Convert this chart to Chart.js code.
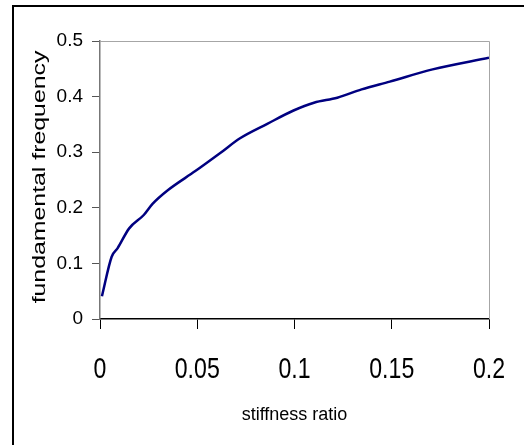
<!DOCTYPE html>
<html>
<head>
<meta charset="utf-8">
<script src="https://cdn.jsdelivr.net/npm/chart.js@4"></script>
<style>
  html, body { margin: 0; padding: 0; background: #fff; overflow: hidden; }
  #wrap { position: relative; width: 524px; height: 445px; overflow: hidden; }
  #frame { position: absolute; left: 12px; top: 5px; width: 600px; height: 600px; border-top: 2px solid #000; border-left: 2px solid #000; pointer-events: none; }
  canvas { position: absolute; left: 0; top: 0; }
</style>
</head>
<body>
<div id="wrap">
  <canvas id="chart" width="524" height="445"></canvas>
  <div id="frame"></div>
</div>
<script>
const STIFFNESS_RATIO = [0.001, 0.006, 0.009, 0.015, 0.0225, 0.027, 0.035, 0.049, 0.062, 0.072, 0.086, 0.0995, 0.11, 0.122, 0.1345, 0.149, 0.171, 0.2]
const FREQUENCY = [0.041, 0.112, 0.127, 0.163, 0.187, 0.207, 0.232, 0.266, 0.299, 0.325, 0.351, 0.375, 0.389, 0.398, 0.413, 0.427, 0.449, 0.470]
const X_TICKS = [0, 0.05, 0.1, 0.15, 0.2]
const Y_TICKS = [0, 0.1, 0.2, 0.3, 0.4, 0.5]
const X_TITLE = 'stiffness ratio'
const Y_TITLE = 'fundamental frequency'

const FONT = "'Liberation Sans', Arial, sans-serif"

// grey top/right edge of the plot box
const plotFrame = {
	id: 'plotFrame',
	beforeDatasetsDraw(chart) {
		const { ctx, chartArea: a } = chart
		ctx.save()
		ctx.strokeStyle = '#a6a6a6'
		ctx.lineWidth = 1
		ctx.beginPath()
		ctx.moveTo(a.left, a.top + 0.5)
		ctx.lineTo(a.right + 0.5, a.top + 0.5)
		ctx.lineTo(a.right + 0.5, a.bottom)
		ctx.stroke()
		ctx.restore()
	}
}

// the original uses squeezed x labels and a stretched y title
const squeezedText = {
	id: 'squeezedText',
	afterDraw(chart) {
		const { ctx, chartArea: a } = chart
		const xs = chart.scales.x
		ctx.save()
		ctx.fillStyle = '#000'
		ctx.font = '30px ' + FONT
		ctx.textAlign = 'center'
		ctx.textBaseline = 'alphabetic'
		X_TICKS.forEach(v => {
			ctx.save()
			ctx.translate(xs.getPixelForValue(v), xs.top + 59)
			ctx.scale(0.77, 1)
			ctx.fillText(String(v), 0, 0)
			ctx.restore()
		})
		ctx.font = '18px ' + FONT
		ctx.textBaseline = 'middle'
		ctx.translate(40, (a.top + a.bottom) / 2 - 3)
		ctx.rotate(-Math.PI / 2)
		ctx.scale(1.38, 1)
		ctx.fillText(Y_TITLE, 0, 0)
		ctx.restore()
	}
}

const data = {
	datasets: [
		{
			label: 'frequency',
			data: STIFFNESS_RATIO.map((x, i) => ({ x: x, y: FREQUENCY[i] })),
			borderColor: '#000080',
			borderWidth: 2.5,
			pointRadius: 0,
			cubicInterpolationMode: 'monotone',
			fill: false,
		},
	]
}

const config = {
	type: 'line',
	data: data,
	plugins: [plotFrame, squeezedText],
	options: {
		responsive: false,
		animation: false,
		layout: {
			padding: { left: 0, top: 41, right: 35, bottom: 0 }
		},
		plugins: {
			legend: { display: false },
			title: { display: false },
			tooltip: { enabled: false }
		},
		scales: {
			x: {
				type: 'linear',
				min: 0,
				max: 0.2,
				afterBuildTicks: (scale) => { scale.ticks = X_TICKS.map(v => ({ value: v })) },
				afterFit: (scale) => { scale.height = 126 },
				title: {
					display: true,
					text: X_TITLE,
					color: '#000',
					font: { family: FONT, size: 18 },
					padding: { top: 0, bottom: 19 }
				},
				ticks: {
					display: false
				},
				grid: {
					drawOnChartArea: false,
					drawTicks: true,
					tickLength: 10,
					color: '#000'
				},
				border: { color: '#000', width: 1.5 }
			},
			y: {
				min: 0,
				max: 0.5,
				afterBuildTicks: (scale) => { scale.ticks = Y_TICKS.map(v => ({ value: v })) },
				afterFit: (scale) => { scale.width = 100 },
				title: { display: false },
				ticks: {
					color: '#000',
					padding: 9,
					autoSkip: false,
					font: { family: FONT, size: 19 },
					callback: (v) => String(v)
				},
				grid: {
					drawOnChartArea: false,
					drawTicks: true,
					tickLength: 8,
					color: '#555'
				},
				border: { color: '#777', width: 1.5 }
			},
		}
	},
}

const chart = new Chart(
	document.getElementById('chart'),
	config
)
</script>
</body>
</html>
